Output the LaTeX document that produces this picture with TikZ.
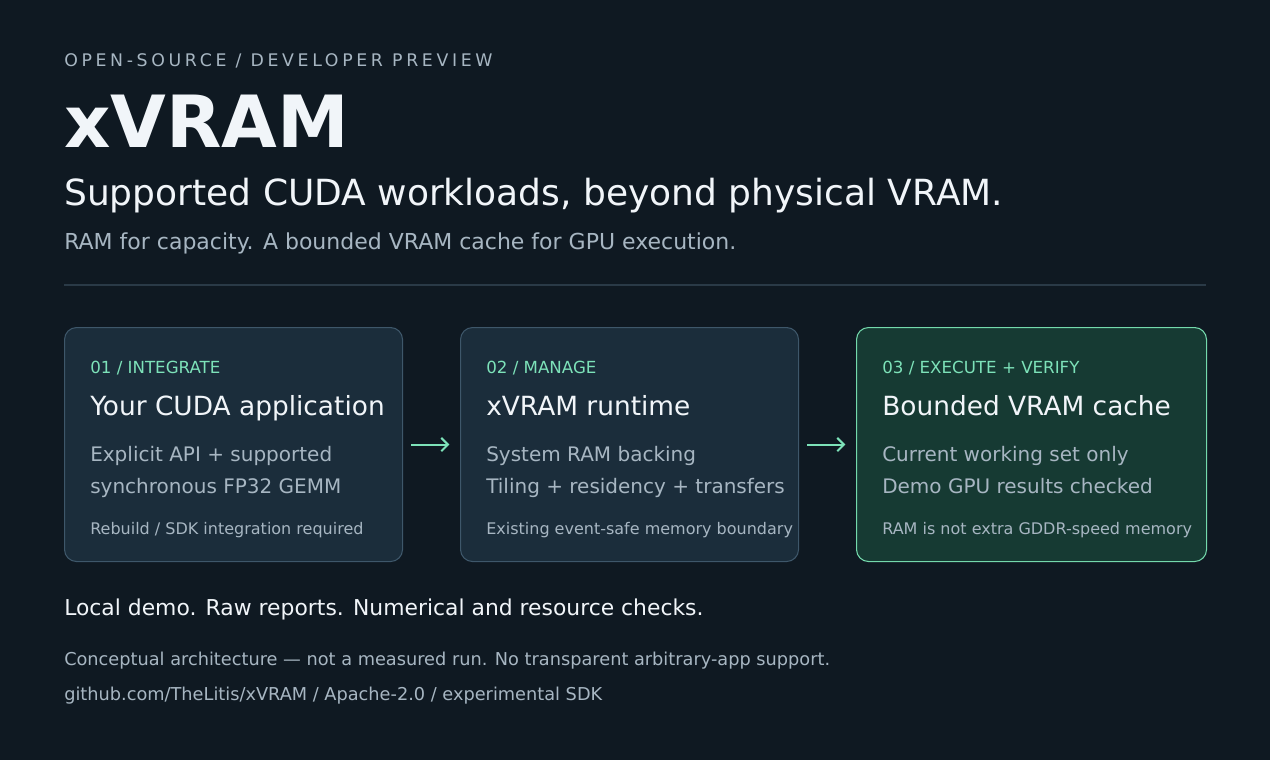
\documentclass[tikz,border=0pt]{standalone}
\usepackage{fontspec}
\setmainfont{DejaVu Sans}
\usetikzlibrary{arrows.meta}
\definecolor{bg}{HTML}{0F1922}
\definecolor{card}{HTML}{1B2D3B}
\definecolor{cardedge}{HTML}{3E576A}
\definecolor{gcard}{HTML}{163A33}
\definecolor{gedge}{HTML}{74D9AC}
\definecolor{mint}{HTML}{7DE2B9}
\definecolor{soft}{HTML}{A7B6C2}
\definecolor{bright}{HTML}{F1F5F9}
\definecolor{rule}{HTML}{2A3A47}
\begin{document}
\begin{tikzpicture}[
  x=0.75pt, y=-0.75pt,
  txt/.style={anchor=base west, inner sep=0pt},
  card/.style={draw=cardedge, fill=card, rounded corners=9pt, line width=0.8pt},
  stage/.style={txt, text=mint, font=\fontsize{12.5}{15}\selectfont},
  head/.style={txt, text=bright, font=\fontsize{19.8}{24}\selectfont},
  body/.style={txt, text=soft, font=\fontsize{15}{23.3}\selectfont, align=left},
  note/.style={txt, text=soft, font=\fontsize{12}{14}\selectfont},
  flow/.style={-{Straight Barb[length=5pt,width=10pt]}, mint, line width=1.5pt, shorten >=8pt, shorten <=6pt},
]
\fill[bg] (0,0) rectangle (1270,760);
\useasboundingbox (0,0) rectangle (1270,760);

\node[txt, text=soft, font=\fontsize{13}{15}\selectfont\addfontfeature{LetterSpace=21}] (kicker) at (64,66) {OPEN-SOURCE / DEVELOPER PREVIEW};
\node[txt, text=bright, font=\fontsize{54}{60}\bfseries\selectfont] (title) at (64,147) {xVRAM};
\node[txt, text=bright, font=\fontsize{27}{30}\selectfont] (tagline) at (64,205) {Supported CUDA workloads, beyond physical VRAM.};
\node[txt, text=soft, font=\fontsize{16.5}{19}\selectfont] (sub) at (64,249) {RAM for capacity. A bounded VRAM cache for GPU execution.};
\draw[rule, line width=1pt] (64,285) -- (1206,285);

% cards
\node[card, minimum width=338*0.75pt, minimum height=234*0.75pt, anchor=north west] (c1) at (64,327) {};
\node[card, minimum width=338*0.75pt, minimum height=234*0.75pt, anchor=north west] (c2) at (460,327) {};
\node[card, draw=gedge, fill=gcard, minimum width=350*0.75pt, minimum height=234*0.75pt, anchor=north west] (c3) at (856,327) {};

\node[stage] (s1) at (90,373) {01 / INTEGRATE};
\node[head] (h1) at (90,415) {Your CUDA application};
\node[body] (b1) at (90,493) {Explicit API + supported\\synchronous FP32 GEMM};
\node[note] (n1) at (90,534) {Rebuild / SDK integration required};

\node[stage] (s2) at (486,373) {02 / MANAGE};
\node[head] (h2) at (486,415) {xVRAM runtime};
\node[body] (b2) at (486,493) {System RAM backing\\Tiling + residency + transfers};
\node[note] (n2) at (486,534) {Existing event-safe memory boundary};

\node[stage] (s3) at (882,373) {03 / EXECUTE + VERIFY};
\node[head] (h3) at (882,415) {Bounded VRAM cache};
\node[body] (b3) at (882,493) {Current working set only\\Demo GPU results checked};
\node[note] (n3) at (882,534) {RAM is not extra GDDR-speed memory};

\draw[flow] (c1.east) -- (c2.west);
\draw[flow] (c2.east) -- (c3.west);

\node[txt, text=bright, font=\fontsize{16.4}{19}\selectfont] (demo) at (64,615) {Local demo. Raw reports. Numerical and resource checks.};
\node[txt, text=soft, font=\fontsize{13.3}{15}\selectfont] (caveat) at (64,665) {Conceptual architecture — not a measured run. No transparent arbitrary-app support.};
\node[txt, text=soft, font=\fontsize{13.3}{15}\selectfont] (repo) at (64,700) {github.com/TheLitis/xVRAM / Apache-2.0 / experimental SDK};
\end{tikzpicture}
\end{document}
